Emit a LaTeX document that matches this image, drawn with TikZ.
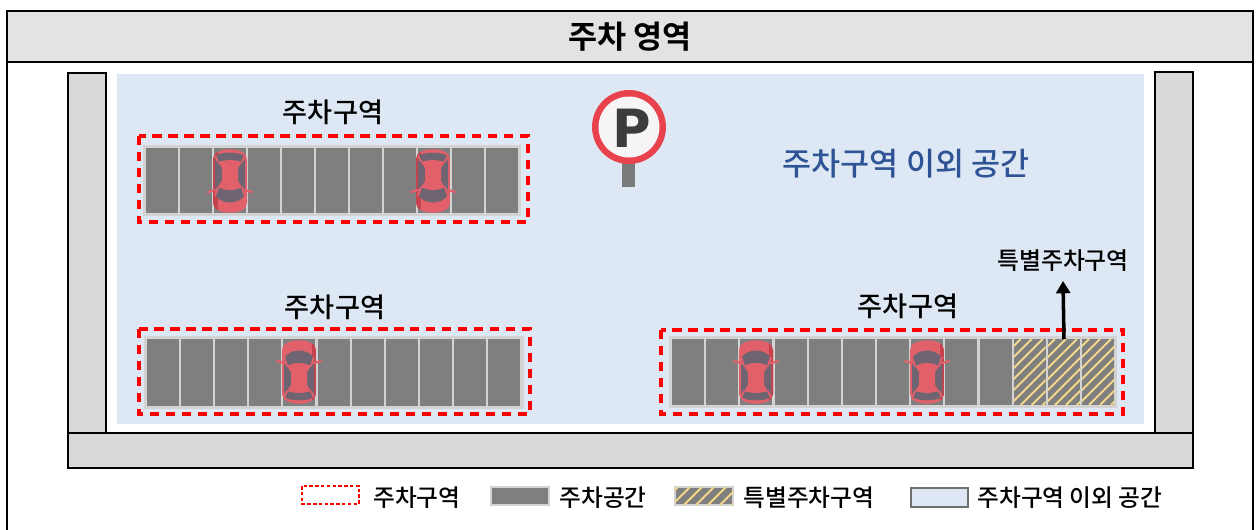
\documentclass[tikz,border=0pt]{standalone}
\usepackage{fontspec}
\IfFontExistsTF{Noto Sans CJK KR Medium}
  {\newfontfamily\kr{Noto Sans CJK KR Medium}}
  {\newfontfamily\kr{Noto Sans CJK KR}[FakeBold=0.6]}
\newfontfamily\krbold{Noto Sans CJK KR Bold}
\newfontfamily\signfont{DejaVu Sans}
\usetikzlibrary{arrows.meta}

\definecolor{titlegray}{HTML}{E3E3E3}
\definecolor{wallgray}{HTML}{D9D9D9}
\definecolor{lotblue}{HTML}{DEE8F4}
\definecolor{bayfill}{HTML}{7F7F7F}
\definecolor{bayedge}{HTML}{D3D3D3}
\definecolor{zonered}{HTML}{FF0000}
\definecolor{carred}{HTML}{E2606A}
\definecolor{carshade}{HTML}{C4434E}
\definecolor{cabin}{HTML}{6E6472}
\definecolor{stripe}{HTML}{F3D78A}
\definecolor{textblue}{HTML}{2F5496}
\definecolor{signred}{HTML}{E8434D}
\definecolor{signwhite}{HTML}{F6F4F5}
\definecolor{postgray}{HTML}{7A7A7A}
\definecolor{pdark}{HTML}{3C3C3C}
\definecolor{legendedge}{HTML}{707070}

\tikzset{
  wall/.style={fill=wallgray, draw=black, line width=1.3pt},
  zonebox/.style={draw=zonered, line width=1.8pt, dash pattern=on 5.3pt off 3.8pt},
  stripeline/.style={draw=stripe, line width=1.1pt},
  zonelabel/.style={font=\kr\fontsize{15.5}{18}\selectfont, text=black, inner sep=0pt},
  legendtext/.style={font=\kr\fontsize{13.5}{16}\selectfont, text=black, anchor=west, inner sep=0pt},
  car/.pic={
    \begin{scope}
      \clip (-17,-22) .. controls (-17,-35) and (17,-35) .. (17,-22) -- (17,22)
            .. controls (17,35) and (-17,35) .. (-17,22) -- cycle;
      \fill[carred] (-18,-36) rectangle (18,36);
      \fill[carshade] (12.5,-36) rectangle (18,36);
    \end{scope}
    % cabin glass
    \fill[cabin] (-15,-14) .. controls (-8,-24) and (8,-24) .. (15,-14) -- (15,25)
          .. controls (8,29.5) and (-8,29.5) .. (-15,25) -- cycle;
    % roof
    \fill[carred] (-12,-6) .. controls (-4,-10) and (4,-10) .. (12,-6) -- (8,0) -- (8,13)
          -- (12,19) .. controls (4,21.5) and (-4,21.5) .. (-12,19) -- (-8,13) -- (-8,0) -- cycle;
    % pillars and mirrors
    \draw[carred, line width=1.1pt] (-12,-6) -- (-15,-15) (12,-6) -- (15,-15)
          (-12,19) -- (-15,25.5) (12,19) -- (15,25.5);
    \draw[carred, line width=1.3pt, line cap=round] (-15,-9) -- (-22,-11) (15,-9) -- (22,-11);
  }
}

\begin{document}
\begin{tikzpicture}[x=0.02cm, y=-0.02cm]
\useasboundingbox (0,0) rectangle (1258,529);

% outer frame and title band
\fill[titlegray] (7,11) rectangle (1253,62);
\draw[line width=1.3pt] (7,545) -- (7,11) -- (1253,11) -- (1253,545);
\draw[line width=1.3pt] (7,62) -- (1253,62);
\node[font=\krbold\fontsize{18}{21}\selectfont, inner sep=0pt] (title) at (630,37) {주차 영역};

% open area of the lot
\fill[lotblue] (117,74) rectangle (1144,424);

% walls
\draw[wall] (68,73) rectangle (106,433);
\draw[wall] (1155,72) rectangle (1193,433);
\draw[wall] (68,433) rectangle (1193,468);

% parking sign
\fill[postgray] (622,162) rectangle (635,187);
\fill[signred] (629,127) circle (37);
\fill[signwhite] (629,127) circle (30.5);
\node[font=\signfont\bfseries\fontsize{30}{30}\selectfont, text=pdark, inner sep=0pt] (sign) at (632,128) {P};

\node[font=\kr\fontsize{18}{21}\selectfont, text=textblue, inner sep=0pt] (openlabel) at (906,164) {주차구역 이외 공간};

% upper left zone
\node[zonelabel] (zoneA) at (333,112) {주차구역};
\fill[bayedge] (143,145) rectangle (521,216);
\foreach \i in {0,...,10} \fill[bayfill] ({146+34*\i},148) rectangle ++(32,65);
\draw[zonebox] (139,136) rectangle (528,222);
\pic[rotate=180] at (230,181) {car};
\pic[rotate=180] at (433,181) {car};

% lower left zone
\node[zonelabel] (zoneB) at (335,307) {주차구역};
\fill[bayedge] (144,336) rectangle (524,409);
\foreach \i in {0,...,10} \fill[bayfill] ({147+34.1*\i},339) rectangle ++(32,67);
\draw[zonebox] (139,329) rectangle (530,414);
\pic at (299,372) {car};

% lower right zone with reserved bays
\node[zonelabel] (zoneC) at (908,306) {주차구역};
\fill[bayedge] (669,336) rectangle (1117,408);
\foreach \i in {0,...,12} \fill[bayfill] ({672+34.17*\i},339) rectangle ++(32,66);
\foreach \i in {10,11,12} {
  \begin{scope}
    \clip ({672+34.17*\i},339) rectangle ++(32,66);
    \foreach \k in {-70,-59,...,40} \draw[stripeline] ({672+34.17*\i+\k},405) -- ++(66,-66);
  \end{scope}
}
\draw[zonebox] (661,330) rectangle (1123,414);
\pic at (756,372) {car};
\pic at (927,372) {car};

\node[zonelabel, font=\kr\fontsize{13.6}{16}\selectfont] (special) at (1063,261) {특별주차구역};
\coordinate (specialfoot) at (1064,339);
\draw[-{Triangle[length=7pt, width=8pt]}, line width=2pt] (specialfoot) -- (special.south |- 0,281);

% legend
\draw[draw=zonered, line width=0.7pt, dash pattern=on 2pt off 1.3pt] (302,486) rectangle (359,504);
\node[legendtext] (legzone) at (373,498) {주차구역};
\draw[fill=bayfill, draw=bayedge, line width=1.2pt] (491,487) rectangle (549,505);
\node[legendtext] (legbay) at (559,498) {주차공간};
\draw[fill=bayfill, draw=bayedge, line width=1.2pt] (675,487) rectangle (733,505);
\begin{scope}
  \clip (675,487) rectangle (733,505);
  \foreach \k in {660,672,...,736} \draw[stripeline] (\k,505) -- ++(18,-18);
\end{scope}
\node[legendtext] (legspecial) at (743,498) {특별주차구역};
\draw[fill=lotblue, draw=legendedge, line width=1.2pt] (911,488) rectangle (968,507);
\node[legendtext] (legopen) at (977,498) {주차구역 이외 공간};
\end{tikzpicture}
\end{document}
